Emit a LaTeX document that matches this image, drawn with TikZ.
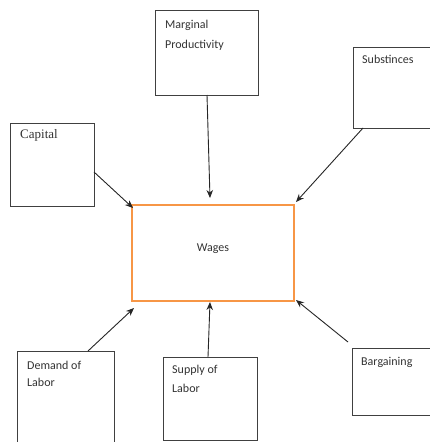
\documentclass[tikz,border=0pt]{standalone}
\usepackage{fontspec}
\setmainfont{Carlito}
\newfontfamily\serifcap{Liberation Serif}
\usetikzlibrary{arrows.meta}
\definecolor{wageorange}{RGB}{247,150,70}
\begin{document}
\begin{tikzpicture}[x=1pt,y=1pt,
  box/.style={draw=black!75,line width=0.9pt,anchor=north west,inner sep=0pt,outer sep=0pt},
  wbox/.style={draw=wageorange,line width=2.2pt,anchor=north west,inner sep=0pt,outer sep=0pt},
  lbl/.style={anchor=base west,inner sep=0pt,text=black!80,font=\fontsize{12}{14}\selectfont},
  conn/.style={draw=black!85,line width=0.9pt,-{Stealth[length=8pt,width=6.5pt]}}]
\useasboundingbox (0,0) rectangle (430,-442);
\fill[white] (0,0) rectangle (430,-442);
\clip (0,0) rectangle (430,-442);
% boxes
\node[box,minimum width=103pt,minimum height=85pt] (mp) at (155,-10) {};
\node[box,minimum width=100pt,minimum height=81pt] (sub) at (353,-47) {};
\node[box,minimum width=84pt,minimum height=83pt] (cap) at (10,-123) {};
\node[wbox,minimum width=162pt,minimum height=96pt] (w) at (132,-205) {};
\node[box,minimum width=97pt,minimum height=110pt] (dem) at (17,-351) {};
\node[box,minimum width=94pt,minimum height=83pt] (sup) at (163,-357) {};
\node[box,minimum width=100pt,minimum height=67pt] (bar) at (352,-348) {};
% labels
\node[lbl] (tmp1) at (165,-28) {Marginal};
\node[lbl] (tmp2) at (165,-48) {Productivity};
\node[lbl] (tsub) at (362,-63) {Substinces};
\node[lbl,font=\serifcap\fontsize{13}{16}\selectfont] (tcap) at (20,-138) {Capital};
\node[anchor=base,inner sep=0pt,text=black!80,font=\fontsize{12}{14}\selectfont] (tw) at (213,-251) {Wages};
\node[lbl] (tdem1) at (27,-369) {Demand of};
\node[lbl] (tdem2) at (27,-386) {Labor};
\node[lbl] (tsup1) at (172,-373) {Supply of};
\node[lbl] (tsup2) at (172,-392) {Labor};
\node[lbl] (tbar) at (361,-365) {Bargaining};
% connectors
\draw[conn] ([xshift=0.5pt]mp.south) -- ([shift={(-3,7)}]w.north);
\draw[conn] ([xshift=10pt]sub.south west) -- ([shift={(2,3)}]w.north east);
\draw[conn] ([yshift=-7.5pt]cap.east) -- ([shift={(1,-3)}]w.north west);
\draw[conn] ([xshift=22.5pt]dem.north) -- ([shift={(2,-7)}]w.south west);
\draw[conn] ([xshift=-2pt]sup.north) -- ([shift={(-3,-1)}]w.south);
\draw[conn] ([shift={(-4,6)}]bar.north west) -- ([shift={(2,1)}]w.south east);
\end{tikzpicture}
\end{document}
